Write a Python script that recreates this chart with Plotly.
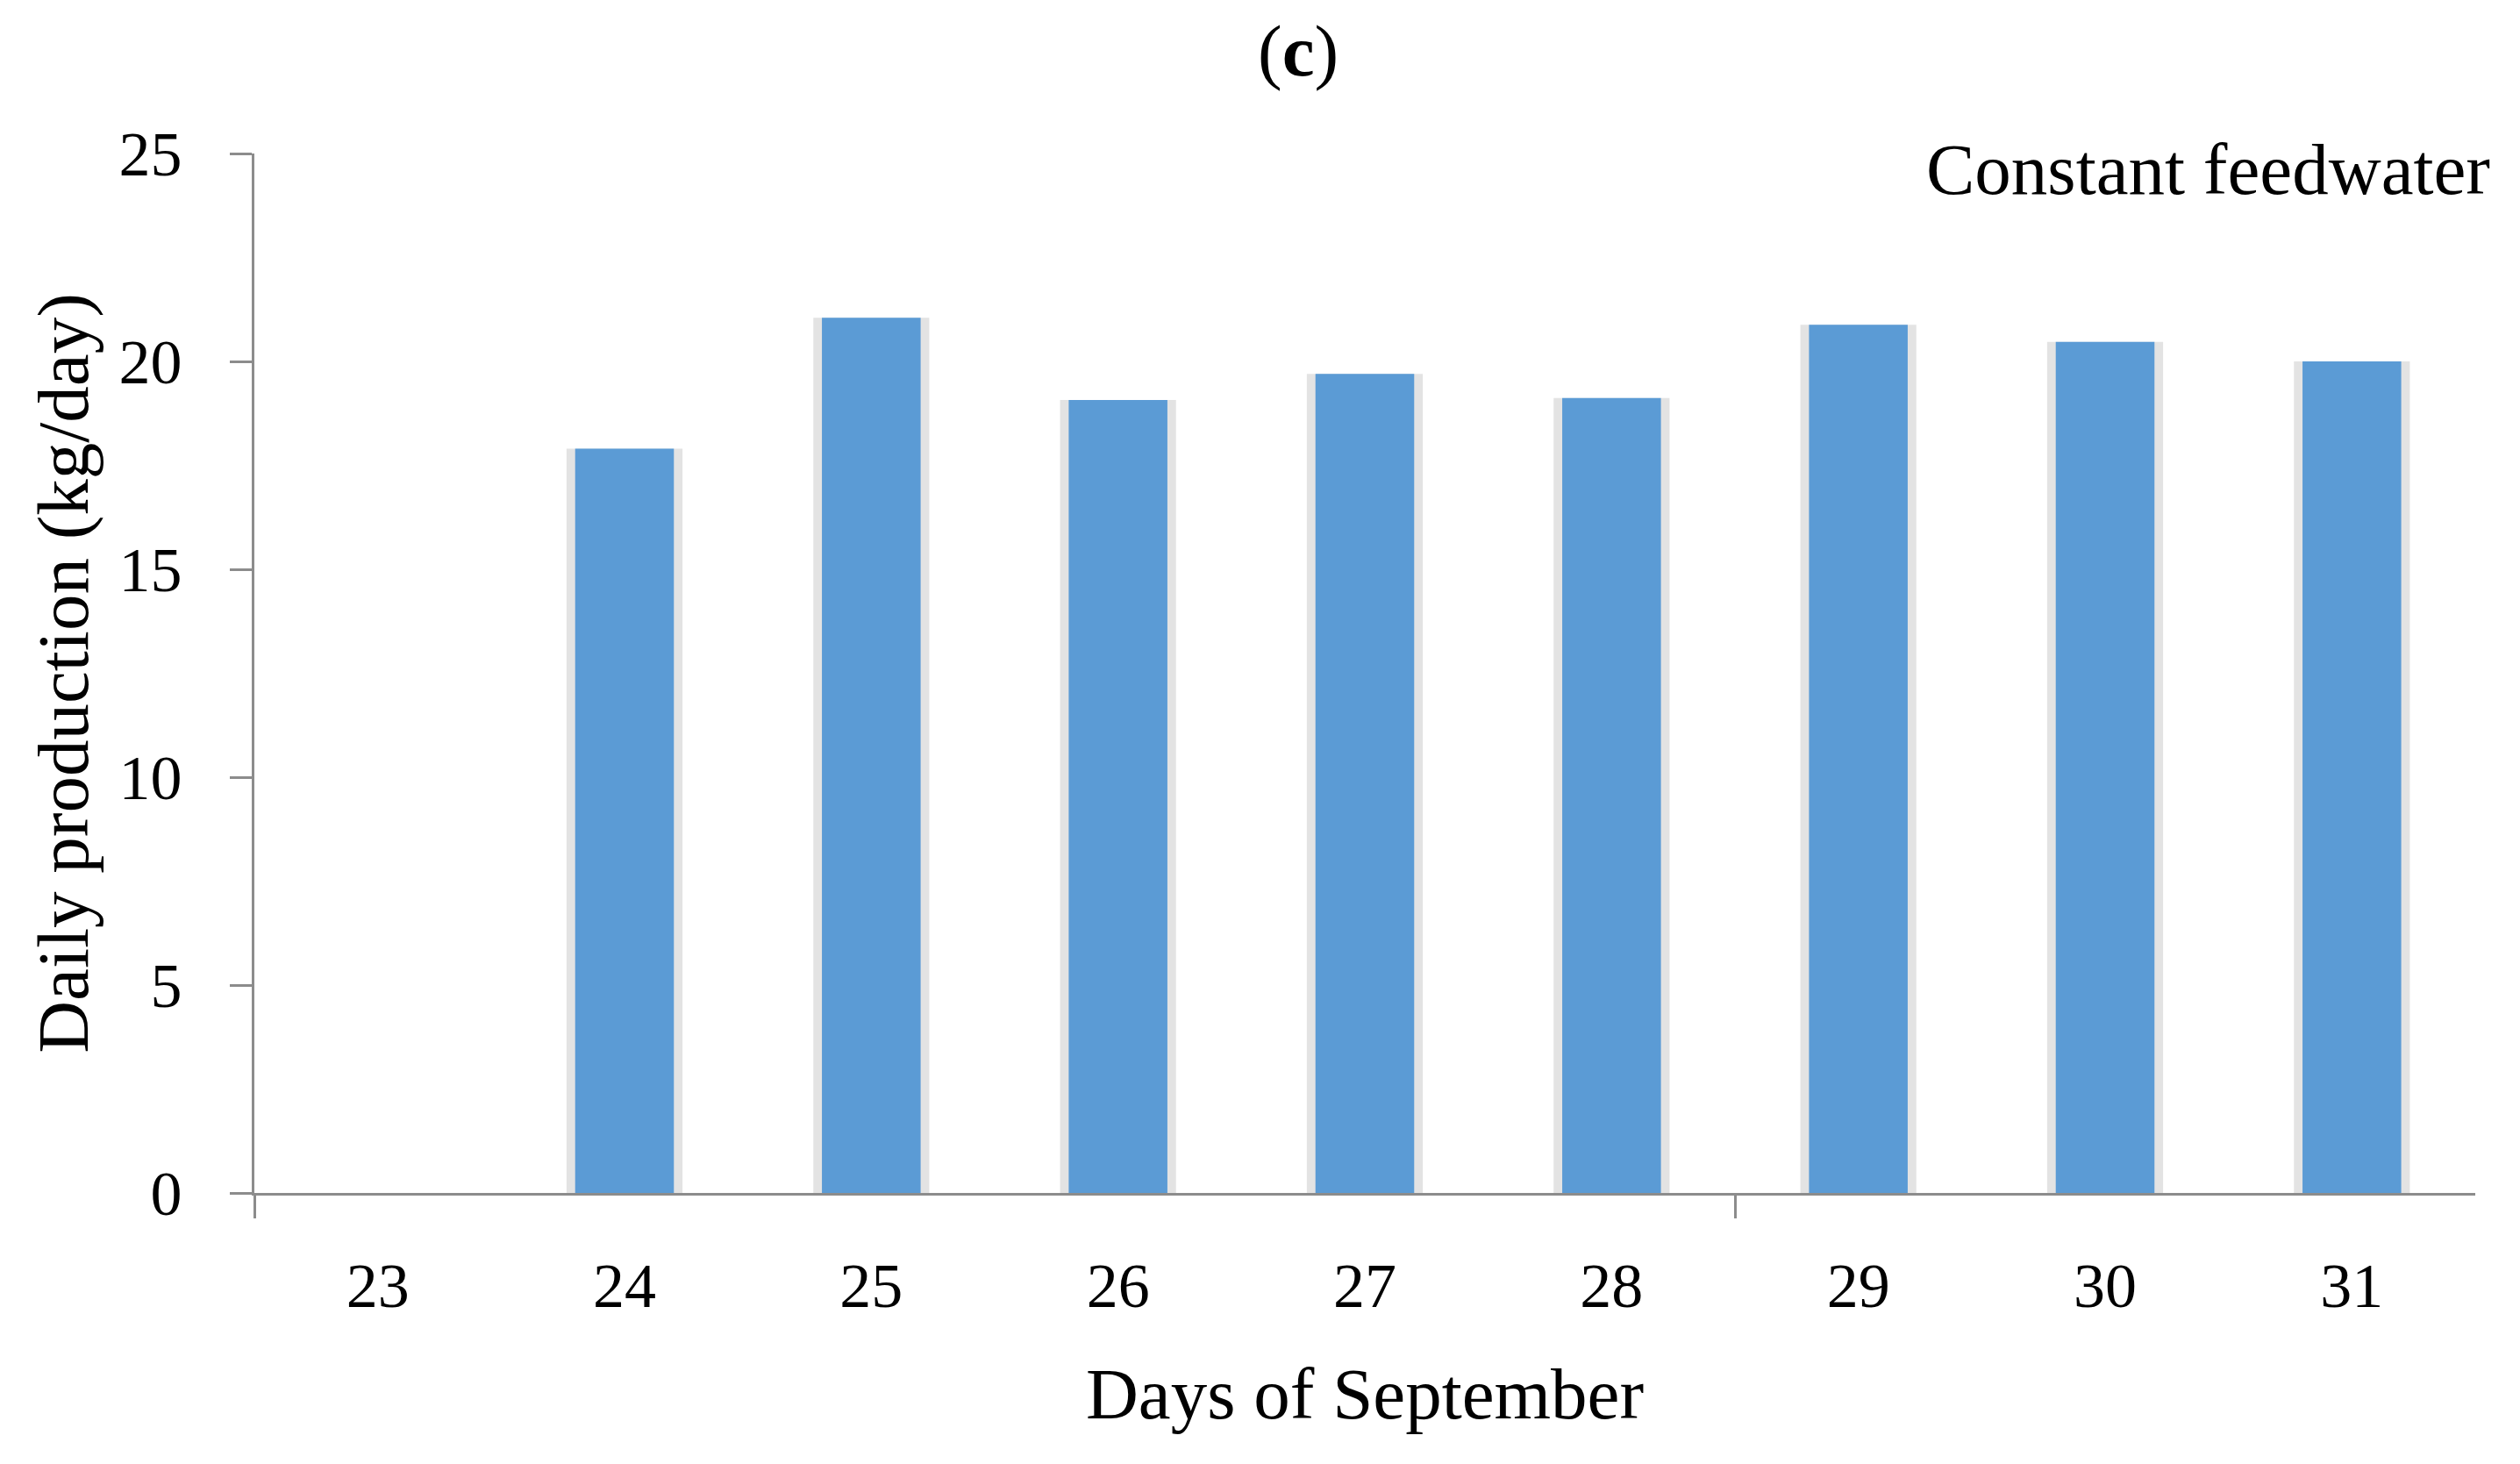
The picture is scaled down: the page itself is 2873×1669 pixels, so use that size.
import plotly.graph_objects as go

days = [23, 24, 25, 26, 27, 28, 29, 30, 31]
production = [0, 17.9, 21.05, 19.07, 19.7, 19.12, 20.88, 20.47, 20.0]
x_boundary_ticks = [22.5, 28.5]
y_ticks = [0, 5, 10, 15, 20, 25]

FONT = "Liberation Serif"
AXIS_COLOR = "#8c8c8c"
W, H = 2857, 1653  # page has an 8px body margin

fig = go.Figure()

# soft shadow behind bars
fig.add_trace(go.Bar(
    x=days, y=production, width=0.47,
    marker=dict(color="rgba(0,0,0,0.11)", line=dict(width=0)),
    hoverinfo="skip", showlegend=False,
))
fig.add_trace(go.Bar(
    x=days, y=production, width=0.40,
    marker=dict(color="#5b9bd5", line=dict(width=0)),
    showlegend=False,
))
# overlay axis carrying the category-boundary tick marks
fig.add_trace(go.Scatter(x=[22.5, 31.5], y=[None, None], xaxis="x2",
                         showlegend=False, hoverinfo="skip"))

fig.update_layout(
    width=W, height=H,
    barmode="overlay",
    plot_bgcolor="white", paper_bgcolor="white",
    margin=dict(l=282, r=43, t=167, b=301),
    font=dict(family=FONT, color="black"),
    xaxis=dict(
        range=[22.5, 31.5], tickvals=days, ticktext=[str(d) for d in days],
        ticks="", showgrid=False, zeroline=False,
        showline=True, linecolor=AXIS_COLOR, linewidth=3,
        tickfont=dict(size=72), ticklabelstandoff=41,
        title=dict(text="Days of September", font=dict(size=83), standoff=54),
        automargin=False,
    ),
    xaxis2=dict(
        overlaying="x", anchor="y", side="bottom",
        range=[22.5, 31.5], tickvals=x_boundary_ticks,
        ticks="outside", ticklen=28, tickwidth=3, tickcolor=AXIS_COLOR,
        showticklabels=False, showgrid=False, zeroline=False, showline=False,
    ),
    yaxis=dict(
        range=[0, 25], tickvals=y_ticks,
        ticks="outside", ticklen=25, tickwidth=3, tickcolor=AXIS_COLOR,
        showgrid=False, zeroline=False,
        showline=True, linecolor=AXIS_COLOR, linewidth=3,
        tickfont=dict(size=72), ticklabelstandoff=40,
        title=dict(text="Daily production (kg/day)", font=dict(size=83), standoff=8),
        automargin=False,
    ),
    annotations=[
        dict(text="(<b>c</b>)", xref="paper", yref="paper",
             x=(1472 - 282) / (W - 282 - 43), y=(H - 301 - 50) / (H - 301 - 167),
             xanchor="center", yanchor="middle", showarrow=False,
             font=dict(size=83)),
        dict(text="Constant feedwater", xref="paper", yref="paper",
             x=1.0075, y=0.9845, xanchor="right", yanchor="middle",
             showarrow=False, font=dict(size=83)),
    ],
)

fig.write_html("out.html")
